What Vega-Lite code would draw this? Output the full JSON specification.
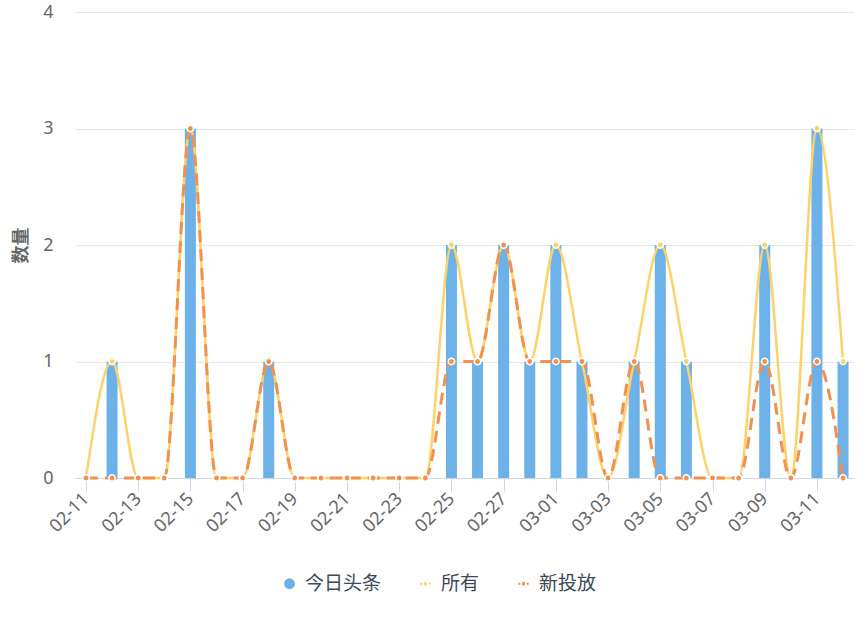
{
  "$schema": "https://vega.github.io/schema/vega-lite/v6.json",
  "autosize": {"type": "none"},
  "padding": {"left": 75, "top": 12, "right": 11, "bottom": 144},
  "width": 779,
  "height": 466,
  "background": "white",
  "config": {
    "view": {"stroke": null},
    "font": "Noto Sans CJK SC"
  },
  "data": {
    "values": [
      {"date": "02-11", "今日头条": 0, "所有": 0, "新投放": 0},
      {"date": "02-12", "今日头条": 1, "所有": 1, "新投放": 0},
      {"date": "02-13", "今日头条": 0, "所有": 0, "新投放": 0},
      {"date": "02-14", "今日头条": 0, "所有": 0, "新投放": 0},
      {"date": "02-15", "今日头条": 3, "所有": 3, "新投放": 3},
      {"date": "02-16", "今日头条": 0, "所有": 0, "新投放": 0},
      {"date": "02-17", "今日头条": 0, "所有": 0, "新投放": 0},
      {"date": "02-18", "今日头条": 1, "所有": 1, "新投放": 1},
      {"date": "02-19", "今日头条": 0, "所有": 0, "新投放": 0},
      {"date": "02-20", "今日头条": 0, "所有": 0, "新投放": 0},
      {"date": "02-21", "今日头条": 0, "所有": 0, "新投放": 0},
      {"date": "02-22", "今日头条": 0, "所有": 0, "新投放": 0},
      {"date": "02-23", "今日头条": 0, "所有": 0, "新投放": 0},
      {"date": "02-24", "今日头条": 0, "所有": 0, "新投放": 0},
      {"date": "02-25", "今日头条": 2, "所有": 2, "新投放": 1},
      {"date": "02-26", "今日头条": 1, "所有": 1, "新投放": 1},
      {"date": "02-27", "今日头条": 2, "所有": 2, "新投放": 2},
      {"date": "02-28", "今日头条": 1, "所有": 1, "新投放": 1},
      {"date": "03-01", "今日头条": 2, "所有": 2, "新投放": 1},
      {"date": "03-02", "今日头条": 1, "所有": 1, "新投放": 1},
      {"date": "03-03", "今日头条": 0, "所有": 0, "新投放": 0},
      {"date": "03-04", "今日头条": 1, "所有": 1, "新投放": 1},
      {"date": "03-05", "今日头条": 2, "所有": 2, "新投放": 0},
      {"date": "03-06", "今日头条": 1, "所有": 1, "新投放": 0},
      {"date": "03-07", "今日头条": 0, "所有": 0, "新投放": 0},
      {"date": "03-08", "今日头条": 0, "所有": 0, "新投放": 0},
      {"date": "03-09", "今日头条": 2, "所有": 2, "新投放": 1},
      {"date": "03-10", "今日头条": 0, "所有": 0, "新投放": 0},
      {"date": "03-11", "今日头条": 3, "所有": 3, "新投放": 1},
      {"date": "03-12", "今日头条": 1, "所有": 1, "新投放": 0}
    ]
  },
  "transform": [
    {"fold": ["今日头条", "所有", "新投放"], "as": ["series", "value"]}
  ],
  "encoding": {
    "x": {
      "field": "date",
      "type": "nominal",
      "scale": {"type": "point", "padding": 0.42},
      "axis": {
        "title": null,
        "values": ["02-11","02-13","02-15","02-17","02-19","02-21","02-23","02-25","02-27","03-01","03-03","03-05","03-07","03-09","03-11"],
        "labelAngle": -45,
        "labelAlign": "right",
        "labelBaseline": "middle",
        "labelFontSize": 18,
        "labelColor": "#666666",
        "labelFont": "Noto Sans",
        "labelPadding": 5,
        "tickSize": 13,
        "tickColor": "#ccd6eb",
        "domainColor": "#ccd6eb",
        "grid": false
      }
    },
    "y": {
      "field": "value",
      "type": "quantitative",
      "scale": {"domain": [0, 4], "nice": false},
      "axis": {
        "title": "数量",
        "titleFontSize": 18,
        "titleColor": "#666666",
        "titleFontWeight": "bold",
        "titlePadding": 12,
        "values": [0, 1, 2, 3, 4],
        "labelFontSize": 18,
        "labelColor": "#666666",
        "labelFont": "Noto Sans",
        "labelPadding": 22,
        "domain": false,
        "ticks": false,
        "gridColor": "#e6e6e6"
      }
    },
    "color": {
      "field": "series",
      "type": "nominal",
      "scale": {
        "domain": ["今日头条", "所有", "新投放"],
        "range": ["#6cb2e8", "#fbd36a", "#f29050"]
      },
      "legend": {
        "title": null,
        "orient": "none",
        "direction": "horizontal",
        "legendX": 205,
        "legendY": 562,
        "symbolOpacity": 1,
        "symbolSize": 120,
        "symbolStrokeWidth": 0,
        "labelFontSize": 19,
        "labelColor": "#3c4858",
        "labelFont": "Noto Sans CJK SC",
        "labelOffset": 6,
        "columnPadding": 34
      }
    }
  },
  "layer": [
    {
      "transform": [{"filter": "datum.series === '今日头条'"}],
      "mark": {"type": "bar", "width": 11}
    },
    {
      "transform": [{"filter": "datum.series === '所有'"}],
      "mark": {"type": "line", "interpolate": "monotone", "strokeWidth": 2.5}
    },
    {
      "transform": [{"filter": "datum.series === '新投放'"}],
      "mark": {"type": "line", "interpolate": "monotone", "strokeWidth": 3, "strokeDash": [12, 7]}
    },
    {
      "transform": [{"filter": "datum.series !== '今日头条'"}],
      "mark": {"type": "point", "filled": true, "size": 40, "stroke": "white", "strokeWidth": 1.5, "opacity": 1}
    },
    {
      "mark": {"type": "point", "filled": true, "opacity": 0},
      "encoding": {
        "shape": {
          "field": "series",
          "type": "nominal",
          "scale": {
            "domain": ["今日头条", "所有", "新投放"],
            "range": ["circle", "M-0.95,-0.2h0.38v0.4h-0.38z M-0.25,-0.3h0.5v0.6h-0.5z M0.57,-0.2h0.38v0.4h-0.38z", "M-0.95,-0.2h0.38v0.4h-0.38z M-0.25,-0.3h0.5v0.6h-0.5z M0.57,-0.2h0.38v0.4h-0.38z"]
          },
          "legend": {
            "title": null,
            "orient": "none",
            "direction": "horizontal",
            "legendX": 205,
            "legendY": 562,
            "symbolOpacity": 1,
            "symbolSize": 120,
            "symbolStrokeWidth": 0,
            "labelFontSize": 19,
            "labelColor": "#3c4858",
            "labelFont": "Noto Sans CJK SC",
            "labelOffset": 6,
            "columnPadding": 34
          }
        }
      }
    }
  ]
}
